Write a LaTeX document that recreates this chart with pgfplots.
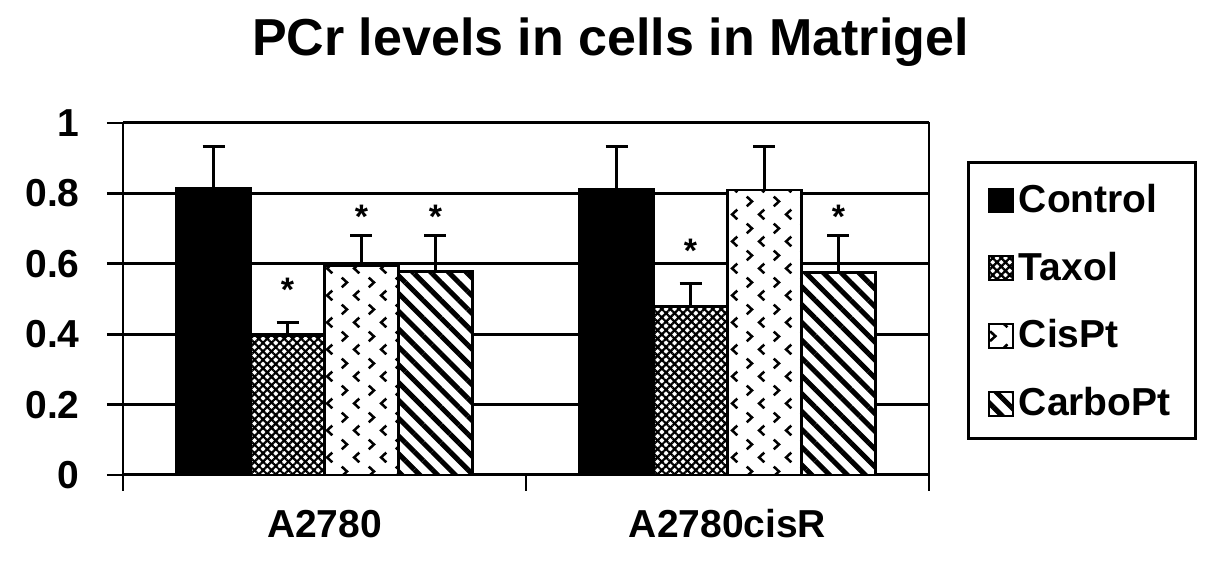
\documentclass[border=0pt]{standalone}
\usepackage{fontspec}
\setmainfont{Liberation Sans}
\usepackage{pgfplots}
\pgfplotsset{compat=1.18}
\usetikzlibrary{patterns,patterns.meta}

\pgfdeclarepatternformonly{chevrons}{\pgfqpoint{0pt}{0pt}}{\pgfqpoint{13.5pt}{13.5pt}}{\pgfqpoint{13.5pt}{13.5pt}}{%
  \pgfsetlinewidth{1.3pt}%
  \pgfpathmoveto{\pgfqpoint{4.3pt}{5.9pt}}\pgfpathlineto{\pgfqpoint{1.6pt}{3.4pt}}\pgfpathlineto{\pgfqpoint{4.3pt}{0.9pt}}%
  \pgfpathmoveto{\pgfqpoint{9.2pt}{12.6pt}}\pgfpathlineto{\pgfqpoint{11.9pt}{10.1pt}}\pgfpathlineto{\pgfqpoint{9.2pt}{7.6pt}}%
  \pgfusepath{stroke}}

% x = group centre (0 or 1) + offset of the bar within the group
\pgfplotstableread{
x y e
-0.2754 0.815 0.118
0.7246 0.813 0.120
}\control
\pgfplotstableread{
x y e
-0.0918 0.395 0.038
0.9082 0.479 0.064
}\taxol
\pgfplotstableread{
x y e
0.0918 0.594 0.086
1.0918 0.810 0.123
}\cispt
\pgfplotstableread{
x y e
0.2754 0.578 0.102
1.2754 0.576 0.104
}\carbopt
\pgfplotstableread{
x y
-0.0918 0.55
0.0918 0.755
0.2754 0.755
0.9082 0.66
1.2754 0.755
}\stars

\newcommand{\bigf}{\bfseries\fontsize{19.5pt}{22pt}\selectfont}

\begin{document}
\begin{tikzpicture}
\path[use as bounding box] (-61.5pt,-48.5pt) rectangle (552.5pt,237.5pt);
\begin{axis}[
  scale only axis, width=403pt, height=176pt,
  xmin=-0.5, xmax=1.5, ymin=0, ymax=1,
  axis line style={line width=1.4pt},
  every tick/.style={black, line width=1.4pt},
  tick align=outside, major tick length=8pt, tick pos=left,
  ytick={0,0.2,0.4,0.6,0.8,1},
  ymajorgrids, major grid style={black, line width=1.5pt},
  xtick={-0.5,0.5,1.5}, xticklabels={},
  extra x ticks={0,1}, extra x tick labels={A2780,A2780cisR},
  extra x tick style={major tick length=0pt, grid=none, tick pos=left},
  /pgf/number format/assume math mode=true,
  yticklabel style={font=\bigf, anchor=east, inner sep=0pt, xshift=-13.5pt},
  xticklabel style={font=\bigf, anchor=base, inner sep=0pt, yshift=-31.5pt},
  title={PCr levels in cells in Matrigel},
  title style={font=\bfseries\fontsize{26pt}{30pt}\selectfont, at={(0.6048,1.159)}, anchor=base, inner sep=0pt},
  legend style={at={(1.0471,0.892)}, anchor=north west, draw=black, line width=1.3pt,
    font=\bigf, inner xsep=10pt, inner ysep=11pt, row sep=19.5pt,
    nodes={inner xsep=2.5pt, inner ysep=0pt, text height=14pt, text depth=0pt}},
  legend cell align=left,
  legend image code/.code={\draw[#1, line width=0.8pt] (0pt,-7pt) rectangle (12pt,5pt);},
  error bars/y dir=plus, error bars/y explicit,
  error bars/error bar style={black, line width=1.5pt},
  error bars/error mark options={black, line width=1.5pt, mark size=5.5pt, rotate=90},
]
\addplot[ybar, bar width=37pt, bar shift=0pt, draw=black, line width=1.3pt, fill=black]
  table[x=x, y=y, y error=e] {\control};
\addplot[ybar, bar width=37pt, bar shift=0pt, draw=black, line width=1.3pt, fill=white,
  postaction={pattern={Hatch[angle=45, distance=3pt, line width=1.1pt]}, pattern color=black}]
  table[x=x, y=y, y error=e] {\taxol};
\addplot[ybar, bar width=37pt, bar shift=0pt, draw=black, line width=1.3pt, fill=white,
  postaction={pattern=chevrons, pattern color=black}]
  table[x=x, y=y, y error=e] {\cispt};
\addplot[ybar, bar width=37pt, bar shift=0pt, draw=black, line width=1.3pt, fill=white,
  postaction={pattern={Lines[angle=-45, distance=6.3pt, line width=2.5pt]}, pattern color=black}]
  table[x=x, y=y, y error=e] {\carbopt};
\addplot[only marks, mark=none, forget plot, nodes near coords={*},
  nodes near coords align=center,
  every node near coord/.append style={font=\bfseries\fontsize{17pt}{17pt}\selectfont, inner sep=0pt, yshift=-4pt}]
  table[x=x, y=y] {\stars};
\legend{Control,Taxol,CisPt,CarboPt}
\end{axis}
\end{tikzpicture}
\end{document}
